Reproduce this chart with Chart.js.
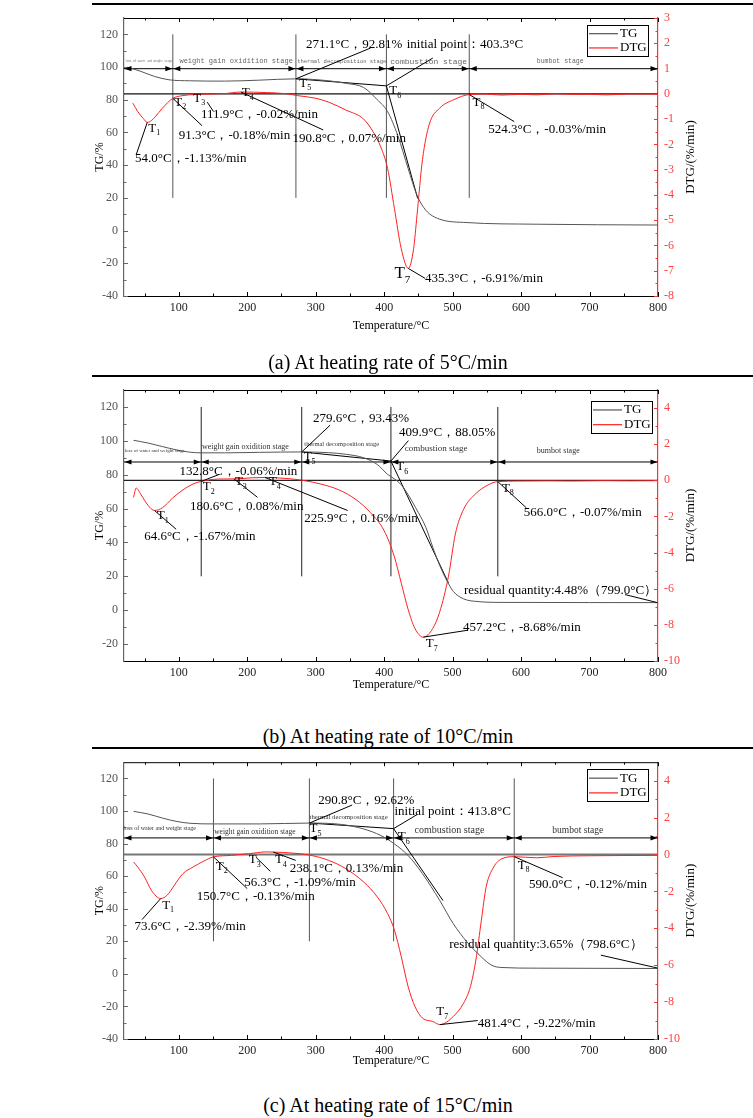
<!DOCTYPE html>
<html>
<head>
<meta charset="utf-8">
<title>TG / DTG curves at three heating rates</title>
<script src="https://cdn.jsdelivr.net/npm/chart.js@4.4.0/dist/chart.umd.min.js"></script>
<style>
  html, body { margin: 0; padding: 0; background: #fff; }
  body { position: relative; width: 753px; height: 1118px; overflow: hidden; font-family: "Liberation Serif", "Times New Roman", serif; }
  .panel { position: absolute; left: 0; }
  .rule { position: absolute; left: 92px; width: 661px; height: 0; border-top: 2px solid #000; }
  .cap { position: absolute; left: 0; width: 776px; text-align: center; font-size: 20px; line-height: 24px; color: #000; }
</style>
</head>
<body>
<canvas id="ca" class="panel" width="753" height="345" style="top:0"></canvas>
<canvas id="cb" class="panel" width="753" height="345" style="top:376px"></canvas>
<canvas id="cc" class="panel" width="753" height="330" style="top:749px"></canvas>
<div class="rule" style="top:3px"></div>
<div class="rule" style="top:375px"></div>
<div class="rule" style="top:747px"></div>
<div class="cap" style="top:350px">(a) At heating rate of 5°C/min</div>
<div class="cap" style="top:724px">(b) At heating rate of 10°C/min</div>
<div class="cap" style="top:1093px">(c) At heating rate of 15°C/min</div>
<script>
// ---------- shared ----------
const FONT = '"Liberation Serif", "Times New Roman", serif';
const MONO = '"Liberation Mono", "DejaVu Sans Mono", monospace';

const xTicks = [100, 200, 300, 400, 500, 600, 700, 800];
const seriesNames = ['TG', 'DTG'];
const stageNames = ['loss of water and weight stage', 'weight gain oxidition stage',
  'thermal decomposition stage', 'combustion stage', 'bumbot stage'];
const pointNames = ['T1', 'T2', 'T3', 'T4', 'T5', 'T6', 'T7', 'T8'];

// ---------- (a) 5 °C/min ----------
const tgTempA = [25, 45, 65, 86, 116, 167, 218, 271.1, 319, 345, 370, 390, 405, 420, 435, 448, 461, 481, 521, 623, 800];
const tgA = [100, 97.3, 94.2, 92.2, 91.6, 91.4, 92.0, 92.81, 91.6, 90.0, 87.5, 80.0, 72.8, 58, 38, 21.6, 12.4, 7.0, 4.9, 3.9, 3.4];
const dtgTempA = [33, 40, 48, 54, 60, 66, 76, 91.3, 106, 121, 142, 167, 190.8, 228, 258, 273, 299, 319, 344, 370,
  385, 395, 405, 415, 425, 435.3, 443, 448, 456, 466, 481, 501, 524.3, 547, 572, 600, 623, 650, 673, 700, 724, 760, 800];
const dtgA = [-0.37, -0.70, -0.97, -1.13, -1.06, -0.9, -0.57, -0.18, -0.07, -0.03, -0.01, 0.01, 0.07, 0.05, 0, -0.07, -0.17, -0.33, -0.64, -1.0,
  -1.55, -2.1, -2.95, -4.54, -6.13, -6.91, -6.13, -4.8, -2.6, -1.2, -0.57, -0.24, -0.03, -0.01, -0.05, -0.02, -0.04, 0, -0.02, -0.02, -0.04, -0.01, -0.01];
const tgTicksA = [-40, -20, 0, 20, 40, 60, 80, 100, 120];
const dtgTicksA = [-8, -7, -6, -5, -4, -3, -2, -1, 0, 1, 2, 3];
const stageEdgesA = [20, 91.3, 271.1, 403.3, 524.3, 800];
const tangentA = [[271.1, 92.81], [403.3, 88.5], [449, 19.6]];
const textA = ['271.1°C，92.81%', 'initial point：403.3°C', '54.0°C，-1.13%/min', '91.3°C，-0.18%/min',
  '111.9°C，-0.02%/min', '190.8°C，0.07%/min', '435.3°C，-6.91%/min', '524.3°C，-0.03%/min'];

// ---------- (b) 10 °C/min ----------
const tgTempB = [34, 55, 76, 96, 116, 132.8, 167, 218, 279.6, 319, 345, 370, 390, 405, 415, 425, 435, 446, 461, 471,
  481, 491, 501, 516, 537, 572, 700, 800];
const tgB = [100.3, 98.7, 96.6, 94.7, 93.3, 92.9, 92.9, 93.2, 93.43, 93.0, 92.0, 90.0, 86.0, 80.2, 77.5, 74.0, 68.2, 60.5, 48.8, 37.2,
  26.6, 17.9, 11.1, 6.7, 5.1, 4.6, 4.5, 4.48];
const dtgTempB = [34, 37.7, 45, 55, 64.6, 76, 91, 106, 121, 132.8, 157, 180.6, 207, 225.9, 258, 281, 309, 334, 359, 380,
  400, 415, 425, 435, 445, 457.2, 471, 481, 494, 504, 516, 532, 552, 566, 598, 640, 674, 720, 760, 800];
const dtgB = [-0.94, -0.43, -0.8, -1.38, -1.67, -1.52, -0.98, -0.53, -0.2, -0.06, 0.07, 0.08, 0.14, 0.16, 0.1, 0, -0.22, -0.53, -1.07, -1.79,
  -2.79, -4.24, -5.69, -7.14, -8.2, -8.68, -8.2, -7.3, -5.3, -2.97, -1.61, -0.8, -0.25, -0.07, -0.04, -0.03, -0.04, -0.02, -0.03, -0.02];
const tgTicksB = [-20, 0, 20, 40, 60, 80, 100, 120];
const dtgTicksB = [-10, -8, -6, -4, -2, 0, 2, 4];
const stageEdgesB = [20, 132.8, 279.6, 409.9, 566.0, 800];
const tangentB = [[279.6, 93.43], [409.9, 88.05], [494, 16]];
const textB = ['279.6°C，93.43%', '409.9°C，88.05%', '132.8°C，-0.06%/min', '64.6°C，-1.67%/min', '180.6°C，0.08%/min',
  '225.9°C，0.16%/min', '457.2°C，-8.68%/min', '566.0°C，-0.07%/min', 'residual quantity:4.48%（799.0°C）'];

// ---------- (c) 15 °C/min ----------
const tgTempC = [34, 55, 76, 96, 116, 152, 218, 290.8, 339, 370, 395, 415, 435, 456, 481, 501, 521, 542, 557, 572, 623, 800];
const tgC = [99.8, 98.2, 95.7, 93.7, 92.5, 92.1, 92.1, 92.62, 91.7, 89.0, 85.0, 79.8, 72.7, 61.5, 45.2, 30.8, 19.6, 10.4, 5.3, 3.9, 3.5, 3.3];
const dtgTempC = [34, 40, 50, 60, 73.6, 83, 93.5, 106, 121, 136.5, 150.7, 177, 202, 228, 238.1, 268, 292, 319, 344, 370,
  390, 405, 415, 425, 435, 445, 456, 471, 481.4, 501, 516, 526, 534, 542, 549, 560, 572, 590, 623, 648, 700, 800];
const dtgC = [-0.41, -0.68, -1.22, -1.94, -2.39, -2.21, -1.67, -1.04, -0.68, -0.36, -0.13, -0.05, 0.04, 0.14, 0.13, 0.07, -0.04, -0.32, -0.77, -1.49,
  -2.3, -3.2, -4.1, -5.54, -7.16, -8.24, -8.87, -9.05, -9.22, -8.78, -8.06, -7.16, -5.72, -3.56, -1.76, -0.68, -0.23, -0.12, -0.18, -0.11, -0.07, -0.05];
const tgTicksC = [-40, -20, 0, 20, 40, 60, 80, 100, 120];
const dtgTicksC = [-10, -8, -6, -4, -2, 0, 2, 4];
const stageEdgesC = [20, 150.7, 290.8, 413.8, 590.0, 800];
const tangentC = [[290.8, 92.62], [413.8, 89.2], [486, 45]];
const textC = ['290.8°C，92.62%', 'initial point：413.8°C', '73.6°C，-2.39%/min', '150.7°C，-0.13%/min', '56.3°C，-1.09%/min',
  '238.1°C，0.13%/min', '481.4°C，-9.22%/min', '590.0°C，-0.12%/min', 'residual quantity:3.65%（798.6°C）'];

// ---------- layout (where things are placed, in axis units) ----------
// note: [text index, x, y, axis, leader x1, y1, x2, y2]
const layoutA = {
  arrowY: 99, vlineFrom: 20, vlineTo: 120,
  stages: [[22, 103.4, 2.6], [101, 103.4, 7], [273, 103.4, 5.5], [409, 103.4, 8], [623, 103.4, 6.5]],
  stageFont: MONO, stageColor: '#666',
  notes: [
    [0, 286, 114, 'y', 271.1, 92.81, 380, 111.6],
    [1, 433, 113.7, 'y', 403.3, 88.5, 471, 105.5],
    [2, 36.2, -2.56, 'y2', 54.0, -1.13, 37.7, -2.42],
    [3, 100, -1.66, 'y2', 91.3, -0.18, 134, -1.26],
    [4, 132.5, -0.81, 'y2', 141.6, -0.33, 150.7, -0.7],
    [5, 266, -1.76, 'y2', 190.8, 0.07, 311, -1.43],
    [6, 459.7, -7.32, 'y2', 435.3, -6.91, 459.7, -7.3],
    [7, 552, -1.4, 'y2', 524.3, -0.03, 590, -1.1]
  ],
  marks: [[55.5, -1.36, 'y2', 13], [93.5, -0.33, 'y2', 13], [121.3, -0.17, 'y2', 13], [192, 0.03, 'y2', 13],
    [276, 90.1, 'y', 13], [407.5, 85.4, 'y', 13], [415, -7.13, 'y2', 17], [529, -0.33, 'y2', 13]],
  legend: [-71, 7, 61, 31], xTitleOff: 30, zeroColor: '#111', zeroWidth: 1.3, vlineColor: '#555'
};
const layoutB = {
  arrowY: 87.5, vlineFrom: 20, vlineTo: 120,
  stages: [[21, 94.3, 5], [134, 96.4, 8], [283.4, 97.8, 6.5], [430, 95.3, 9], [623, 94.1, 8]],
  stageFont: FONT, stageColor: '#333',
  notes: [
    [0, 296, 113.3, 'y', 279.6, 93.43, 321, 109.2],
    [1, 421.7, 104.6, 'y', 409.9, 88.05, 435.4, 100.1],
    [2, 101, 0.49, 'y2', 132.8, -0.06, 159.3, 0.33],
    [3, 49.4, -3.1, 'y2', 64.6, -1.67, 96, -2.7],
    [4, 116.3, -1.47, 'y2', 180.6, 0.08, 215, -0.94],
    [5, 283.4, -2.12, 'y2', 225.9, 0.16, 346.7, -1.67],
    [6, 515, -8.15, 'y2', 457.2, -8.68, 521.5, -8.3],
    [7, 604, -1.78, 'y2', 566, -0.07, 607.6, -1.52],
    [8, 516.5, 11.7, 'y', 799, 4.48, 752, 9.2]
  ],
  marks: [[68, -1.97, 'y2', 13], [135, -0.34, 'y2', 13], [182, -0.07, 'y2', 13], [231.7, -0.07, 'y2', 13],
    [282.4, 90.4, 'y', 13], [417.7, 84.6, 'y', 13], [460.7, -9.04, 'y2', 13], [572, -0.43, 'y2', 13]],
  legend: [-67, 11, 61, 32], xTitleOff: 24, zeroColor: '#222', zeroWidth: 1.3, vlineColor: '#222'
};
const layoutC = {
  arrowY: 83.5, vlineFrom: 20, vlineTo: 120,
  stages: [[19, 89.4, 6], [151.7, 87.4, 7.5], [291, 96.2, 6.8], [444.5, 88, 10], [645.6, 88, 9.5]],
  stageFont: FONT, stageColor: '#333',
  notes: [
    [0, 303.7, 106.4, 'y', 290.8, 92.62, 353.3, 103.7],
    [1, 415, 99.6, 'y', 413.8, 89.2, 448, 97.8],
    [2, 35.2, -3.92, 'y2', 73.6, -2.39, 46.3, -3.53],
    [3, 126.4, -2.27, 'y2', 150.7, -0.13, 200, -1.85],
    [4, 195.8, -1.51, 'y2', 212.5, -0.14, 233.8, -0.92],
    [5, 262, -0.77, 'y2', 238.1, 0.13, 270.8, -0.32],
    [6, 536.7, -9.14, 'y2', 481.4, -9.22, 536.7, -9.0],
    [7, 611.7, -1.64, 'y2', 590, -0.12, 660.8, -1.26],
    [8, 495, 18.2, 'y', 798.6, 3.65, 716.5, 11.5]
  ],
  marks: [[75.7, -2.75, 'y2', 13], [154, -0.65, 'y2', 13], [202.4, -0.29, 'y2', 13], [240.4, -0.29, 'y2', 13],
    [291, 89, 'y', 13], [420, 84.3, 'y', 13], [476, -8.54, 'y2', 13], [595, -0.59, 'y2', 13]],
  legend: [-71, 7, 61, 32], xTitleOff: 22, zeroColor: '#777', zeroWidth: 2, vlineColor: '#555'
};

// ---------- helpers ----------
function pts(xs, ys) { return xs.map((x, i) => ({ x: x, y: ys[i] })); }
function withMinor(major, lo, hi) {
  const step = major[1] - major[0];
  const minor = [];
  const first = major[0] - step / 2;
  if (first > lo) minor.push(first);
  for (let i = 0; i < major.length - 1; i++) minor.push((major[i] + major[i + 1]) / 2);
  const last = major[major.length - 1] + step / 2;
  if (last < hi) minor.push(last);
  return minor;
}
function seg(ctx, x1, y1, x2, y2, col, w) {
  ctx.strokeStyle = col; ctx.lineWidth = w;
  ctx.beginPath(); ctx.moveTo(x1, y1); ctx.lineTo(x2, y2); ctx.stroke();
}
function head(ctx, x, y, dir) {
  ctx.beginPath(); ctx.moveTo(x, y); ctx.lineTo(x - dir * 7, y - 2.6); ctx.lineTo(x - dir * 7, y + 2.6);
  ctx.closePath(); ctx.fill();
}

function makeDecor(P) {
  return {
    id: 'decor',
    afterDatasetsDraw(chart) {
      const ctx = chart.ctx, ca = chart.chartArea, sc = chart.scales;
      const L = P.lay;
      const X = v => sc.x.getPixelForValue(v);
      const Y = (v, ax) => sc[ax || 'y'].getPixelForValue(v);
      ctx.save();

      // top frame
      seg(ctx, ca.left, ca.top + 0.5, ca.right, ca.top + 0.5, '#000', 1);

      // inward ticks
      xTicks.forEach(v => { const x = Math.round(X(v)) + 0.5;
        seg(ctx, x, ca.bottom, x, ca.bottom - 4, '#000', 1); seg(ctx, x, ca.top, x, ca.top + 4, '#000', 1); });
      withMinor(xTicks, 20, 800).forEach(v => { const x = Math.round(X(v)) + 0.5;
        seg(ctx, x, ca.bottom, x, ca.bottom - 2.5, '#000', 1); seg(ctx, x, ca.top, x, ca.top + 2.5, '#000', 1); });
      P.yTicks.forEach(v => { const y = Math.round(Y(v)) + 0.5; seg(ctx, ca.left, y, ca.left + 4, y, '#666', 1); });
      withMinor(P.yTicks, P.yMin, P.yMax).forEach(v => { const y = Math.round(Y(v)) + 0.5; seg(ctx, ca.left, y, ca.left + 2.5, y, '#666', 1); });
      P.y2Ticks.forEach(v => { const y = Math.round(Y(v, 'y2')) + 0.5; seg(ctx, ca.right, y, ca.right - 4, y, '#ff3030', 1); });
      withMinor(P.y2Ticks, P.y2Min, P.y2Max).forEach(v => { const y = Math.round(Y(v, 'y2')) + 0.5; seg(ctx, ca.right, y, ca.right - 2.5, y, '#ff3030', 1); });

      // stage arrows
      ctx.fillStyle = '#000';
      const ay = Y(L.arrowY);
      for (let i = 0; i < P.edges.length - 1; i++) {
        head(ctx, X(P.edges[i]) + 0.5, ay, -1);
        head(ctx, X(P.edges[i + 1]) - 0.5, ay, 1);
      }
      // stage names
      ctx.textAlign = 'left'; ctx.textBaseline = 'middle'; ctx.fillStyle = L.stageColor;
      L.stages.forEach((s, i) => { ctx.font = s[2] + 'px ' + L.stageFont; ctx.fillText(stageNames[i], X(s[0]), Y(s[1])); });

      // value notes with leader lines
      ctx.fillStyle = '#000';
      ctx.font = '13px ' + FONT;
      L.notes.forEach(n => {
        seg(ctx, X(n[4]), Y(n[5], n[3]), X(n[6]), Y(n[7], n[3]), '#000', 1);
        ctx.fillText(P.texts[n[0]], X(n[1]), Y(n[2], n[3]));
      });

      // characteristic point marks T1..T8
      L.marks.forEach((m, i) => {
        const x = X(m[0]), y = Y(m[1], m[2]);
        const name = pointNames[i];
        ctx.font = m[3] + 'px ' + FONT;
        ctx.fillText(name[0], x, y);
        const w = ctx.measureText(name[0]).width;
        ctx.font = Math.round(m[3] * 0.62) + 'px ' + FONT;
        ctx.fillText(name.slice(1), x + w, y + m[3] * 0.38);
      });

      // legend
      const lg = L.legend;
      const bx = ca.right + lg[0], by = ca.top + lg[1];
      ctx.strokeStyle = '#000'; ctx.lineWidth = 1;
      ctx.strokeRect(Math.round(bx) + 0.5, Math.round(by) + 0.5, lg[2], lg[3]);
      const rows = [[seriesNames[0], '#555'], [seriesNames[1], '#ff2020']];
      rows.forEach((r, i) => {
        const yy = by + lg[3] * (i === 0 ? 0.28 : 0.74);
        seg(ctx, bx + 2, yy, bx + 31, yy, r[1], 1.2);
        ctx.fillStyle = '#000'; ctx.font = '13px ' + FONT;
        ctx.fillText(r[0], bx + 33, yy);
      });

      // axis titles
      ctx.fillStyle = '#000'; ctx.font = '12px ' + FONT; ctx.textAlign = 'center';
      ctx.fillText('Temperature/°C', (ca.left + ca.right) / 2, ca.bottom + L.xTitleOff);
      ctx.save(); ctx.translate(ca.left - 24, (ca.top + ca.bottom) / 2); ctx.rotate(-Math.PI / 2);
      ctx.fillText('TG/%', 0, 0); ctx.restore();
      ctx.save(); ctx.translate(ca.right + 33, (ca.top + ca.bottom) / 2); ctx.rotate(-Math.PI / 2);
      ctx.font = '13px ' + FONT; ctx.fillText('DTG/(%/min)', 0, 0); ctx.restore();

      ctx.restore();
    }
  };
}

function makePanel(P) {
  const L = P.lay;
  const ds = [
    { data: pts(P.tgT, P.tg), yAxisID: 'y', borderColor: '#555', borderWidth: 1, cubicInterpolationMode: 'monotone' },
    { data: pts(P.dT, P.dtg), yAxisID: 'y2', borderColor: '#ff2020', borderWidth: 1, cubicInterpolationMode: 'monotone' },
    { data: P.tangent.map(p => ({ x: p[0], y: p[1] })), yAxisID: 'y', borderColor: '#000', borderWidth: 1, tension: 0 },
    { data: [{ x: 20, y: 0 }, { x: 800, y: 0 }], yAxisID: 'y2', borderColor: L.zeroColor, borderWidth: L.zeroWidth, tension: 0 },
    { data: [{ x: 20, y: L.arrowY }, { x: 800, y: L.arrowY }], yAxisID: 'y', borderColor: '#000', borderWidth: 1, tension: 0 }
  ];
  P.edges.slice(1, -1).forEach(t => ds.push({
    data: [{ x: t, y: L.vlineFrom }, { x: t, y: L.vlineTo }], yAxisID: 'y', borderColor: L.vlineColor, borderWidth: 1, tension: 0
  }));

  const tickFont = { family: FONT, size: 12 };
  new Chart(document.getElementById(P.id), {
    type: 'line',
    data: { datasets: ds },
    options: {
      responsive: false, animation: false, events: [],
      layout: { padding: { left: 124 - 34, right: 753 - 658 - 30, top: P.padTop, bottom: P.padBottom } },
      elements: { point: { radius: 0 }, line: { fill: false } },
      plugins: { legend: { display: false }, tooltip: { enabled: false } },
      scales: {
        x: {
          type: 'linear', min: 20, max: 800,
          afterBuildTicks: s => { s.ticks = xTicks.map(v => ({ value: v })); },
          afterFit: s => { s.height = 20; },
          grid: { display: false, drawTicks: false },
          border: { display: true, color: '#000', width: 1 },
          ticks: { font: tickFont, color: '#222', padding: 5, maxRotation: 0, autoSkip: false }
        },
        y: {
          position: 'left', min: P.yMin, max: P.yMax,
          afterBuildTicks: s => { s.ticks = P.yTicks.map(v => ({ value: v })); },
          afterFit: s => { s.width = 34; },
          grid: { display: false, drawTicks: false },
          border: { display: true, color: '#666', width: 1.2 },
          ticks: { font: tickFont, color: '#555', padding: 6 }
        },
        y2: {
          position: 'right', min: P.y2Min, max: P.y2Max,
          afterBuildTicks: s => { s.ticks = P.y2Ticks.map(v => ({ value: v })); },
          afterFit: s => { s.width = 30; },
          grid: { display: false, drawTicks: false },
          border: { display: true, color: '#ff3030', width: 1.2 },
          ticks: { font: tickFont, color: '#ff4040', padding: 6 }
        }
      }
    },
    plugins: [makeDecor(P)]
  });
}

makePanel({ id: 'ca', tgT: tgTempA, tg: tgA, dT: dtgTempA, dtg: dtgA, yMin: -40, yMax: 130, y2Min: -8, y2Max: 3,
  yTicks: tgTicksA, y2Ticks: dtgTicksA, edges: stageEdgesA, tangent: tangentA, texts: textA, lay: layoutA, padTop: 18, padBottom: 29 });
makePanel({ id: 'cb', tgT: tgTempB, tg: tgB, dT: dtgTempB, dtg: dtgB, yMin: -30, yMax: 130, y2Min: -10, y2Max: 5,
  yTicks: tgTicksB, y2Ticks: dtgTicksB, edges: stageEdgesB, tangent: tangentB, texts: textB, lay: layoutB, padTop: 14, padBottom: 40 });
makePanel({ id: 'cc', tgT: tgTempC, tg: tgC, dT: dtgTempC, dtg: dtgC, yMin: -40, yMax: 130, y2Min: -10, y2Max: 5,
  yTicks: tgTicksC, y2Ticks: dtgTicksC, edges: stageEdgesC, tangent: tangentC, texts: textC, lay: layoutC, padTop: 13, padBottom: 20 });
</script>
</body>
</html>
